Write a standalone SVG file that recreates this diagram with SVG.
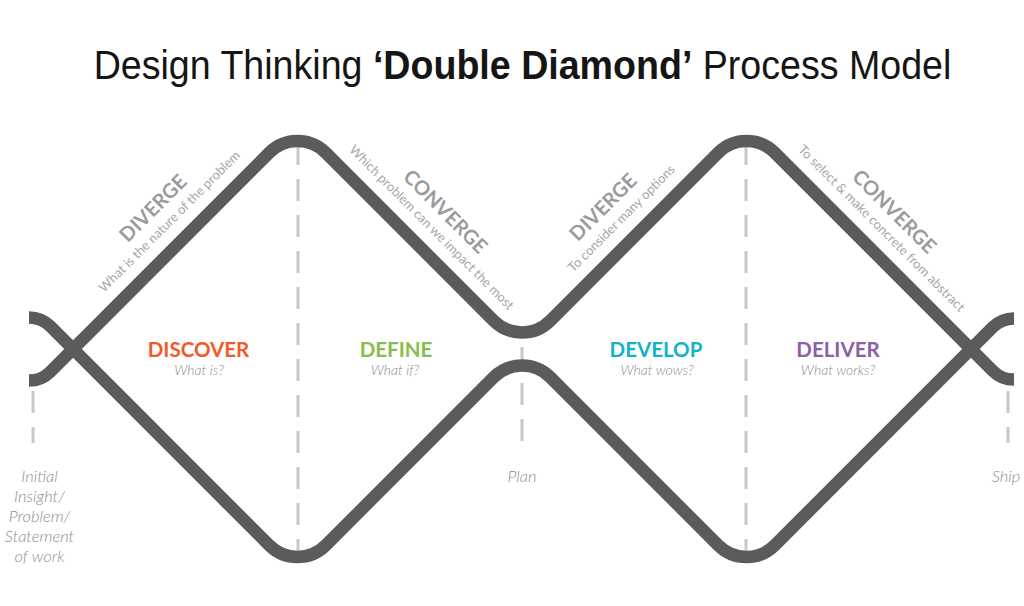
<svg xmlns="http://www.w3.org/2000/svg" width="1024" height="606" viewBox="0 0 1024 606">
<style>
.wave{fill:none;stroke:#5b5b5d;stroke-width:12.5;stroke-linecap:butt;stroke-linejoin:round}
.dash{stroke:#c9c9cd;stroke-width:3;stroke-dasharray:22 14;fill:none}
.title{font-family:"Liberation Sans",Arial,sans-serif;font-size:40px;fill:#151515;text-anchor:middle}
.dir{font-family:Lato,"Noto Sans",sans-serif;font-weight:700;font-size:20px;fill:#9b9b9d;text-anchor:middle}
.sub{font-family:Lato,"Noto Sans",sans-serif;font-weight:400;font-size:13px;fill:#a6a6a8;text-anchor:middle}
.phase{font-family:Lato,"Noto Sans",sans-serif;font-weight:700;font-size:20.5px;text-anchor:middle}
.q{font-family:Lato,"Noto Sans",sans-serif;font-style:italic;font-weight:300;font-size:14px;fill:#8c8c8e;text-anchor:middle}
.ms{font-family:Lato,"Noto Sans",sans-serif;font-style:italic;font-weight:300;font-size:16.5px;fill:#8e8e90;text-anchor:middle}
</style>
<rect width="1024" height="606" fill="#ffffff"/>
<g id="title"><text class="title" transform="translate(522.5 79) scale(0.94 1)">Design Thinking <tspan font-weight="700">‘Double Diamond’</tspan> Process Model</text></g>
<g id="guides">
<line class="dash" x1="33" y1="391" x2="33" y2="443"/>
<line class="dash" x1="298" y1="143" x2="298" y2="556"/>
<line class="dash" x1="522" y1="347" x2="522" y2="443"/>
<line class="dash" x1="746" y1="143" x2="746" y2="556"/>
<line class="dash" x1="1008" y1="391" x2="1008" y2="443"/>
</g>
<g id="connectors">
<path id="upper-wave" class="wave" d="M 29 380.6 A 30 30 0 0 0 50.2 371.8 L 269.22 152.78 A 40 40 0 0 1 325.78 152.78 L 493.72 320.72 A 40 40 0 0 0 550.28 320.72 L 718.22 152.78 A 40 40 0 0 1 774.78 152.78 L 992.8 370.8 A 30 30 0 0 0 1014 379.6"/>
<path id="lower-wave" class="wave" d="M 29 317.4 A 30 30 0 0 1 50.2 326.2 L 269.22 545.22 A 40 40 0 0 0 325.78 545.22 L 493.72 377.28 A 40 40 0 0 1 550.28 377.28 L 718.22 545.22 A 40 40 0 0 0 774.78 545.22 L 992.8 327.2 A 30 30 0 0 1 1014 318.4"/>
</g>
<g id="diverge-1">
<text class="dir" transform="translate(158 213) rotate(-45)">DIVERGE</text>
<text class="sub" transform="translate(172.5 224.5) rotate(-45)">What is the nature of the problem</text>
</g>
<g id="converge-1">
<text class="dir" transform="translate(440.5 216.5) rotate(45)">CONVERGE</text>
<text class="sub" transform="translate(428.5 230.5) rotate(45)">Which problem can we impact the most</text>
</g>
<g id="diverge-2">
<text class="dir" transform="translate(608 212) rotate(-45)">DIVERGE</text>
<text class="sub" transform="translate(624.5 221.5) rotate(-45)">To consider many options</text>
</g>
<g id="converge-2">
<text class="dir" transform="translate(889.5 216.5) rotate(45)">CONVERGE</text>
<text class="sub" transform="translate(878.5 231.5) rotate(45)">To select &amp; make concrete from abstract</text>
</g>
<g id="discover">
<text class="phase" x="198.5" y="357" fill="#f15a29">DISCOVER</text>
<text class="q" x="199" y="375">What is?</text>
</g>
<g id="define">
<text class="phase" x="396" y="357" fill="#88bd4c">DEFINE</text>
<text class="q" x="395" y="375">What if?</text>
</g>
<g id="develop">
<text class="phase" x="656" y="357" fill="#12b3c7">DEVELOP</text>
<text class="q" x="657" y="375">What wows?</text>
</g>
<g id="deliver">
<text class="phase" x="838" y="357" fill="#8c60a8">DELIVER</text>
<text class="q" x="838" y="375">What works?</text>
</g>
<g id="start">
<text class="ms" x="39.5" y="482">Initial</text>
<text class="ms" x="39.5" y="502">Insight/</text>
<text class="ms" x="39.5" y="522">Problem/</text>
<text class="ms" x="39.5" y="542">Statement</text>
<text class="ms" x="39.5" y="562">of work</text>
</g>
<g id="plan"><text class="ms" x="522" y="482">Plan</text></g>
<g id="ship"><text class="ms" x="1006" y="482">Ship</text></g>
</svg>
